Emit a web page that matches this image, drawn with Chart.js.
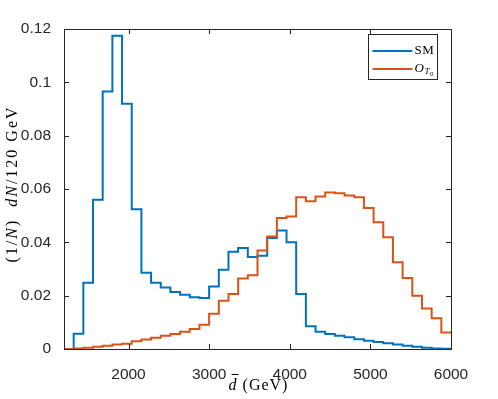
<!DOCTYPE html>
<html>
<head>
<meta charset="utf-8">
<script src="https://cdn.jsdelivr.net/npm/chart.js@4.4.1/dist/chart.umd.min.js"></script>
<style>
  html, body { margin: 0; padding: 0; background: #fff; }
  #wrap { width: 498px; height: 399px; }
</style>
</head>
<body>
<div id="wrap"><canvas id="dbarChart"></canvas></div>
<script>
// bin edges in GeV (120 GeV bins)
const binEdges = [1200, 1320, 1440, 1560, 1680, 1800, 1920, 2040, 2160, 2280,
  2400, 2520, 2640, 2760, 2880, 3000, 3120, 3240, 3360, 3480,
  3600, 3720, 3840, 3960, 4080, 4200, 4320, 4440, 4560, 4680,
  4800, 4920, 5040, 5160, 5280, 5400, 5520, 5640, 5760, 5880, 6000];

// normalized counts per bin
const smValues = [0, 0.0057, 0.0248, 0.056, 0.0966, 0.1175, 0.092, 0.0524, 0.0286, 0.0248,
  0.0231, 0.0214, 0.0203, 0.0194, 0.0191, 0.0234, 0.0297, 0.0365, 0.0379, 0.0345,
  0.035, 0.0416, 0.0444, 0.040, 0.0206, 0.0085, 0.0065, 0.0056, 0.005, 0.0044,
  0.0037, 0.0031, 0.0026, 0.0022, 0.0017, 0.0012, 0.0008, 0.0005, 0.0002, 0.0001];

const ot0Values = [0, 0.0002, 0.0005, 0.0008, 0.0012, 0.0017, 0.002, 0.0029, 0.0036, 0.0042,
  0.005, 0.0056, 0.0065, 0.0075, 0.0091, 0.0132, 0.0181, 0.0206, 0.0264, 0.0277,
  0.0369, 0.0422, 0.0491, 0.0497, 0.0569, 0.0554, 0.0572, 0.0587, 0.0584, 0.0576,
  0.0569, 0.0529, 0.0475, 0.0419, 0.0325, 0.0266, 0.020, 0.0152, 0.0115, 0.0062];

const xTickValues = [2000, 3000, 4000, 5000, 6000];
const yTickValues = [0, 0.02, 0.04, 0.06, 0.08, 0.1, 0.12];
const yTickLabels = ["0", "0.02", "0.04", "0.06", "0.08", "0.1", "0.12"];

const BLUE = "#0072BD";
const ORANGE = "#D95319";
const AXIS = "#262626";
const SERIF = "'Liberation Serif', 'Times New Roman', serif";

// one point per left bin edge + closing point at last edge
function toSteps(values) {
  const pts = values.map((v, i) => ({ x: binEdges[i], y: v }));
  pts.push({ x: binEdges[binEdges.length - 1], y: values[values.length - 1] });
  return pts;
}

// draw a row of text pieces (some italic / subscript), centered or left aligned
function drawRich(ctx, segs, x, y, spacing, align) {
  let total = 0;
  segs.forEach(s => {
    ctx.font = s.font;
    ctx.letterSpacing = (s.sp !== undefined ? s.sp : spacing) + "px";
    s.w = ctx.measureText(s.t).width;
    total += s.w;
  });
  let cx = align === "left" ? x : x - total / 2;
  segs.forEach(s => {
    ctx.font = s.font;
    ctx.letterSpacing = (s.sp !== undefined ? s.sp : spacing) + "px";
    ctx.fillText(s.t, cx, y + (s.dy || 0));
    if (s.bar) {
      // overbar (as in \bar{d})
      ctx.save();
      ctx.strokeStyle = ctx.fillStyle;
      ctx.lineWidth = 1;
      ctx.beginPath();
      ctx.moveTo(cx + 3, y - 11.5);
      ctx.lineTo(cx + s.w + 1, y - 11.5);
      ctx.stroke();
      ctx.restore();
    }
    cx += s.w;
  });
  ctx.letterSpacing = "0px";
}

const framePlugin = {
  id: "frame",
  afterDatasetsDraw(chart) {
    const ctx = chart.ctx;
    const a = chart.chartArea;
    const xs = chart.scales.x, ys = chart.scales.y;
    ctx.save();
    ctx.strokeStyle = AXIS;
    ctx.lineWidth = 1;
    ctx.strokeRect(Math.round(a.left) + 0.5, Math.round(a.top) + 0.5,
      Math.round(a.right - a.left), Math.round(a.bottom - a.top));
    // inward tick marks on all four sides
    const tl = 5;
    ctx.beginPath();
    xTickValues.forEach(v => {
      const px = Math.round(xs.getPixelForValue(v)) + 0.5;
      ctx.moveTo(px, a.bottom); ctx.lineTo(px, a.bottom - tl);
      ctx.moveTo(px, a.top); ctx.lineTo(px, a.top + tl);
    });
    yTickValues.forEach(v => {
      const py = Math.round(ys.getPixelForValue(v)) + 0.5;
      ctx.moveTo(a.left, py); ctx.lineTo(a.left + tl, py);
      ctx.moveTo(a.right, py); ctx.lineTo(a.right - tl, py);
    });
    ctx.stroke();

    // legend box
    const bw = 69, bh = 45;
    const bx = Math.round(a.right - 14 - bw) + 0.5, by = Math.round(a.top + 5) + 0.5;
    ctx.fillStyle = "#fff";
    ctx.fillRect(bx, by, bw, bh);
    ctx.strokeStyle = AXIS;
    ctx.strokeRect(bx, by, bw, bh);
    const rows = [
      { color: BLUE, y: by + 16.5, segs: [{ t: "SM", font: "13px " + SERIF }] },
      { color: ORANGE, y: by + 34.5, segs: [
        { t: "O", font: "italic 13px " + SERIF },
        { t: "T", font: "italic 9px " + SERIF, dy: 3 },
        { t: "0", font: "7px " + SERIF, dy: 5 }
      ] }
    ];
    rows.forEach(r => {
      ctx.strokeStyle = r.color;
      ctx.lineWidth = 2;
      ctx.beginPath();
      ctx.moveTo(bx + 4, r.y); ctx.lineTo(bx + 44, r.y);
      ctx.stroke();
      ctx.fillStyle = "#000";
      ctx.textBaseline = "middle";
      drawRich(ctx, r.segs, bx + 46, r.y, 0.5, "left");
    });
    ctx.restore();
  },
  afterDraw(chart) {
    const ctx = chart.ctx;
    const a = chart.chartArea;
    ctx.save();
    ctx.fillStyle = "#000";
    ctx.textBaseline = "middle";
    // x title
    drawRich(ctx, [
      { t: "d", font: "italic 16px " + SERIF, bar: true },
      { t: " (GeV)", font: "16px " + SERIF }
    ], (a.left + a.right) / 2 + 1, 386, 1);
    // y title
    ctx.translate(13, (a.top + a.bottom) / 2 - 5);
    ctx.rotate(-Math.PI / 2);
    drawRich(ctx, [
      { t: "(1/", font: "16px " + SERIF },
      { t: "N", font: "italic 16px " + SERIF },
      { t: ")  ", font: "16px " + SERIF },
      { t: "dN", font: "italic 16px " + SERIF },
      { t: "/120 GeV", font: "16px " + SERIF }
    ], 0, 0, 2);
    ctx.restore();
  }
};

const ctx = document.getElementById("dbarChart").getContext("2d");
window.dbarChart = new Chart(ctx, {
  type: "line",
  data: {
    datasets: [
      {
        label: "SM",
        data: toSteps(smValues),
        borderColor: BLUE,
        borderWidth: 2,
        stepped: true,
        pointRadius: 0,
        fill: false,
        order: 1
      },
      {
        label: "O_T0",
        data: toSteps(ot0Values),
        borderColor: ORANGE,
        borderWidth: 2,
        stepped: true,
        pointRadius: 0,
        fill: false,
        order: 0
      }
    ]
  },
  options: {
    responsive: true,
    maintainAspectRatio: false,
    animation: false,
    events: [],
    layout: { padding: { left: 0, right: 47, top: 29, bottom: 0 } },
    plugins: { legend: { display: false }, tooltip: { enabled: false } },
    scales: {
      x: {
        type: "linear",
        min: 1200,
        max: 6000,
        afterBuildTicks: s => { s.ticks = xTickValues.map(v => ({ value: v })); },
        afterFit: s => { s.height = 50; },
        grid: { display: false },
        border: { display: false },
        ticks: {
          color: AXIS,
          padding: 8,
          maxRotation: 0,
          font: { family: "'Liberation Sans', Arial, sans-serif", size: 15.5 },
          callback: v => String(v)
        }
      },
      y: {
        min: 0,
        max: 0.12,
        afterBuildTicks: s => { s.ticks = yTickValues.map(v => ({ value: v })); },
        afterFit: s => { s.width = 64; },
        grid: { display: false },
        border: { display: false },
        ticks: {
          color: AXIS,
          padding: 5,
          font: { family: "'Liberation Sans', Arial, sans-serif", size: 15.5 },
          callback: (v, i) => yTickLabels[i]
        }
      }
    }
  },
  plugins: [framePlugin]
});
</script>
</body>
</html>
